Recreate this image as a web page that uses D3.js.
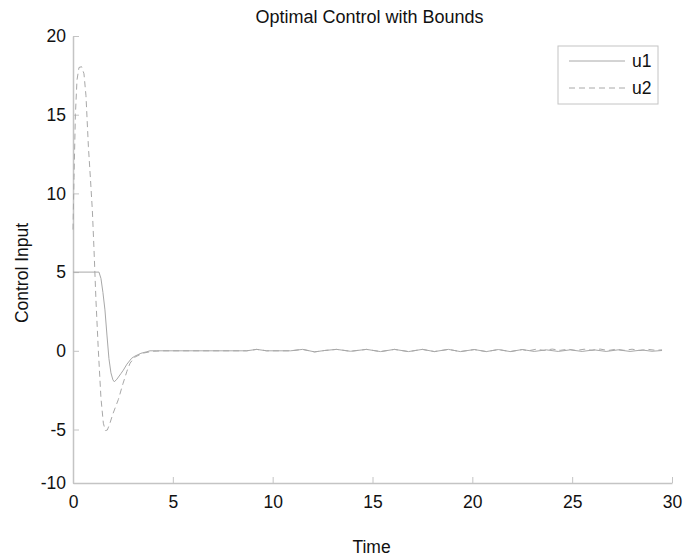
<!DOCTYPE html>
<html>
<head>
<meta charset="utf-8">
<script src="https://cdn.jsdelivr.net/npm/d3@7/dist/d3.min.js"></script>
<style>
  html, body { margin: 0; padding: 0; background: #fff; }
  svg text { font-family: "Liberation Sans", Arial, sans-serif; fill: #111; }
</style>
</head>
<body>
<svg id="chart" width="700" height="559"></svg>
<script>
// ---- data ----
const titleText = "Optimal Control with Bounds";
const xLabel = "Time";
const yLabel = "Control Input";
const xTicks = [0, 5, 10, 15, 20, 25, 30];
const yTicks = [-10, -5, 0, 5, 10, 15, 20];
const seriesNames = ["u1", "u2"];

const u1Time = [0, 1.3, 1.4, 1.5, 1.6, 1.7, 1.8, 1.9, 2.0, 2.07, 2.2, 2.4, 2.52, 2.7, 2.94, 3.1, 3.4, 3.7, 3.85, 4.2,
  8.7, 9.2, 9.7, 10.9, 11.5, 12.1, 12.6, 13.2, 13.9, 14.7, 15.4, 16.1, 16.8, 17.5, 18.1, 18.8, 19.4, 20.1, 20.7,
  21.3, 21.9, 22.5, 23.1, 23.7, 24.3, 24.9, 25.5, 26.1, 26.7, 27.3, 27.9, 28.5, 29.0, 29.5];
const u1Value = [5, 5, 4.6, 3.7, 2.6, 1.0, -0.5, -1.4, -1.85, -1.97, -1.8, -1.45, -1.23, -0.85, -0.47, -0.34, -0.16, -0.06, 0, 0,
  0, 0.09, 0, 0, 0.09, -0.07, 0.02, 0.09, -0.03, 0.09, -0.05, 0.09, -0.05, 0.09, -0.05, 0.09, -0.05, 0.08, -0.05,
  0.08, -0.05, 0.08, -0.04, 0.06, -0.04, 0.06, -0.04, 0.06, -0.04, 0.06, -0.04, 0.05, -0.03, 0.02];

const u2Time = [0, 0.05, 0.12, 0.2, 0.3, 0.43, 0.55, 0.65, 0.77, 0.88, 0.97, 1.05, 1.15, 1.27, 1.4, 1.52, 1.62, 1.72, 1.85,
  2.0, 2.27, 2.5, 2.7, 2.86, 3.1, 3.5, 4.0, 4.5, 8.7, 9.2, 9.7, 10.9, 11.5, 12.1, 12.6, 13.2, 13.9, 14.7, 15.4, 16.1,
  16.8, 17.5, 18.1, 18.8, 19.4, 20.1, 20.7, 21.3, 21.9, 22.5, 22.8, 23.2, 23.6, 24.0, 24.4, 24.8, 25.2, 25.6, 26.0,
  26.4, 26.8, 27.2, 27.6, 28.0, 28.4, 28.8, 29.2, 29.5];
const u2Value = [7.7, 11, 15, 17.2, 18.0, 18.05, 17.6, 16.2, 13.0, 10.8, 8.9, 6.5, 3.2, 0, -3.0, -4.6, -5.1, -5.05, -4.6,
  -4.0, -3.1, -2.1, -1.3, -0.78, -0.4, -0.15, -0.03, 0, 0, 0.09, 0, 0, 0.09, -0.07, 0.02, 0.09, -0.03, 0.09, -0.05, 0.09,
  -0.05, 0.09, -0.05, 0.09, -0.05, 0.08, -0.05, 0.08, -0.05, 0.08, 0.0, 0.1, 0.02, 0.11, 0.03, 0.1, 0.02, 0.1, 0.03,
  0.11, 0.02, 0.1, 0.03, 0.1, 0.02, 0.09, 0.03, 0.06];

// ---- layout ----
const svg = d3.select("#chart");
const mLeft = 73, mRight = 672, mTop = 36, mBottom = 483;

const x = d3.scaleLinear().domain([0, 30]).range([mLeft, mRight]);
// the reference's lowest interval is compressed; piecewise linear scale reproduces it
const y = d3.scaleLinear().domain([-10, -5, 20]).range([mBottom, 429.5, mTop]);

const axisColor = "#c4c4c4";
const lineColor = "#a8a8a8";
const fmt = d => String(d);

// x axis (ticks pointing inward)
const gx = svg.append("g").attr("transform", `translate(0,${mBottom})`)
  .call(d3.axisBottom(x).tickValues(xTicks).tickSizeInner(-6).tickSizeOuter(0).tickPadding(13).tickFormat(fmt));
// y axis
const gy = svg.append("g").attr("transform", `translate(${mLeft},0)`)
  .call(d3.axisLeft(y).tickValues(yTicks).tickSizeInner(-6).tickSizeOuter(0).tickPadding(7).tickFormat(fmt));

[gx, gy].forEach(g => {
  g.select(".domain").attr("stroke", axisColor).attr("stroke-width", 1.5);
  g.selectAll(".tick line").attr("stroke", axisColor);
  g.selectAll(".tick text").attr("font-size", 17.5).attr("fill", "#111")
    .attr("font-family", "'Liberation Sans', Arial, sans-serif");
});

// lines
const line = d3.line().x(d => x(d[0])).y(d => y(d[1]));
const u1 = u1Time.map((t, i) => [t, u1Value[i]]);
const u2 = u2Time.map((t, i) => [t, u2Value[i]]);

svg.append("path").datum(u1).attr("d", line)
  .attr("fill", "none").attr("stroke", lineColor).attr("stroke-width", 1);
svg.append("path").datum(u2).attr("d", line)
  .attr("fill", "none").attr("stroke", lineColor).attr("stroke-width", 1).attr("stroke-dasharray", "6,4");

// title & labels
svg.append("text").attr("x", (mLeft + mRight) / 2 - 3).attr("y", 23).attr("text-anchor", "middle")
  .attr("font-size", 18).text(titleText);
svg.append("text").attr("x", (mLeft + mRight) / 2 - 1).attr("y", 553).attr("text-anchor", "middle")
  .attr("font-size", 17.5).text(xLabel);
svg.append("text").attr("transform", `translate(28,273) rotate(-90)`).attr("text-anchor", "middle")
  .attr("font-size", 17.5).text(yLabel);

// legend
const lg = svg.append("g");
lg.append("rect").attr("x", 558).attr("y", 46).attr("width", 100).attr("height", 58)
  .attr("fill", "#fff").attr("stroke", axisColor).attr("stroke-width", 1);
const dashes = [null, "6,4"];
seriesNames.forEach((name, i) => {
  const yy = 61 + i * 27;
  lg.append("line").attr("x1", 569).attr("x2", 625).attr("y1", yy).attr("y2", yy)
    .attr("stroke", lineColor).attr("stroke-width", 1).attr("stroke-dasharray", dashes[i]);
  lg.append("text").attr("x", 632).attr("y", yy + 6).attr("font-size", 17.5).text(name);
});
</script>
</body>
</html>
